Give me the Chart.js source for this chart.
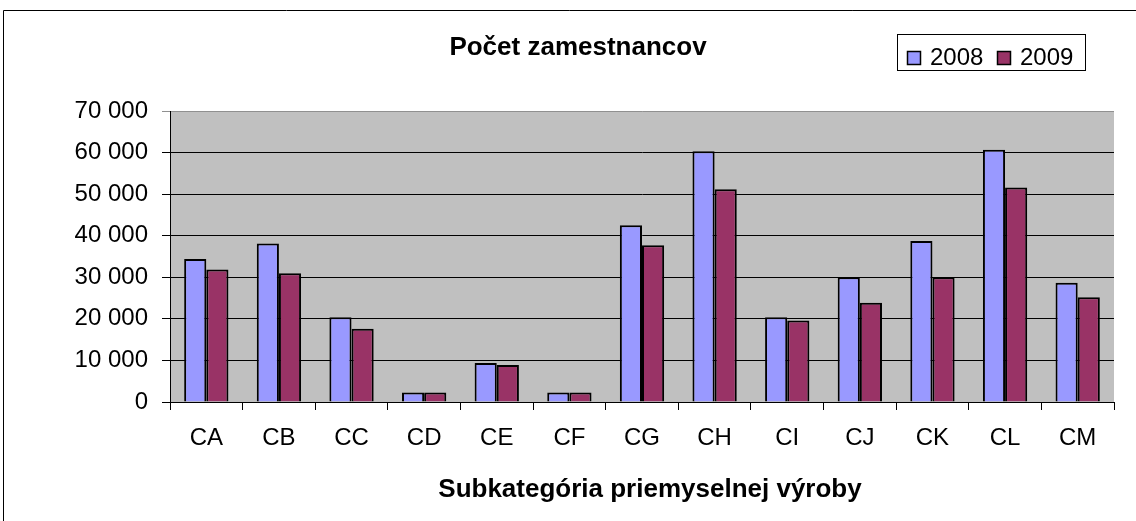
<!DOCTYPE html>
<html>
<head>
<meta charset="utf-8">
<script src="https://cdn.jsdelivr.net/npm/chart.js@4"></script>
<style>
  html, body { margin: 0; padding: 0; background: #fff; }
  #wrap { width: 1136px; height: 521px; }
</style>
</head>
<body>
<div id="wrap"><canvas id="chart" width="1136" height="521"></canvas></div>
<script>
const categories = ["CA", "CB", "CC", "CD", "CE", "CF", "CG", "CH", "CI", "CJ", "CK", "CL", "CM"];
const values2008 = [34400, 38100, 20400, 2300, 9400, 2300, 42500, 60300, 20400, 30000, 38700, 60700, 28700];
const values2009 = [31900, 31000, 17600, 2300, 8900, 2300, 37700, 51200, 19600, 23900, 30000, 51600, 25200];
const seriesNames = ["2008", "2009"];
const chartTitle = "Počet zamestnancov";
const xTitle = "Subkategória priemyselnej výroby";

const FONT = "'Liberation Sans', Arial, sans-serif";

// frame, grey plot area, title, x title and legend box
const decor = {
  id: "decor",
  beforeDraw(chart) {
    const ctx = chart.ctx;
    const a = chart.chartArea;
    ctx.save();
    ctx.fillStyle = "#fff";
    ctx.fillRect(0, 0, chart.width, chart.height);
    ctx.fillStyle = "#c0c0c0";
    ctx.fillRect(a.left, a.top, a.right - a.left, a.bottom - a.top);
    ctx.strokeStyle = "#000";
    ctx.lineWidth = 1;
    ctx.beginPath();
    ctx.moveTo(3.5, chart.height);
    ctx.lineTo(3.5, 10.5);
    ctx.lineTo(chart.width, 10.5);
    ctx.stroke();
    ctx.restore();
  },
  afterDraw(chart) {
    const ctx = chart.ctx;
    ctx.save();
    ctx.fillStyle = "#000";
    ctx.textAlign = "center";
    ctx.textBaseline = "middle";
    ctx.font = "bold 26px " + FONT;
    ctx.fillText(chartTitle, 578, 48);
    ctx.font = "bold 26px " + FONT;
    ctx.fillText(xTitle, 650, 490);

    // legend
    ctx.strokeStyle = "#000";
    ctx.lineWidth = 1;
    ctx.strokeRect(897.5, 34.5, 188, 36);
    ctx.font = "24px " + FONT;
    ctx.textAlign = "left";
    let x = 907;
    chart.data.datasets.forEach(ds => {
      ctx.fillStyle = ds.backgroundColor;
      ctx.fillRect(x, 51, 13, 13);
      ctx.lineWidth = 1.5;
      ctx.strokeRect(x + 0.5, 51.5, 13, 13);
      ctx.fillStyle = "#000";
      ctx.fillText(ds.label, x + 23, 58);
      x += 90;
    });
    ctx.restore();
  }
};

new Chart(document.getElementById("chart"), {
  type: "bar",
  data: {
    labels: categories,
    datasets: [
      { label: seriesNames[0], data: values2008, backgroundColor: "#9999ff", borderColor: "#000", borderWidth: 2 },
      { label: seriesNames[1], data: values2009, backgroundColor: "#993366", borderColor: "#000", borderWidth: 2 }
    ]
  },
  options: {
    responsive: false,
    animation: false,
    devicePixelRatio: 1,
    categoryPercentage: 0.61,
    barPercentage: 1,
    layout: { padding: { left: 0, top: 111, right: 22, bottom: 0 } },
    plugins: {
      legend: { display: false },
      title: { display: false },
      tooltip: { enabled: false }
    },
    scales: {
      x: {
        afterFit: s => { s.height = 119; },
        grid: { display: true, drawOnChartArea: false, drawTicks: true, tickLength: 8, color: "#000", offset: true },
        border: { color: "#000", width: 1 },
        ticks: { color: "#000", font: { family: FONT, size: 24 }, padding: 14, maxRotation: 0 }
      },
      y: {
        min: 0,
        max: 70000,
        afterFit: s => { s.width = 170; },
        grid: {
          color: ctx => ctx.tick && ctx.tick.value === 70000 ? "#909090" : "#000",
          drawTicks: true,
          tickLength: 8
        },
        border: { color: "#000", width: 1 },
        ticks: {
          stepSize: 10000,
          color: "#000",
          padding: 14,
          font: { family: FONT, size: 24 },
          callback: v => v === 0 ? "0" : String(v).replace(/\B(?=(\d{3})+(?!\d))/g, " ")
        }
      }
    }
  },
  plugins: [decor]
});
</script>
</body>
</html>
